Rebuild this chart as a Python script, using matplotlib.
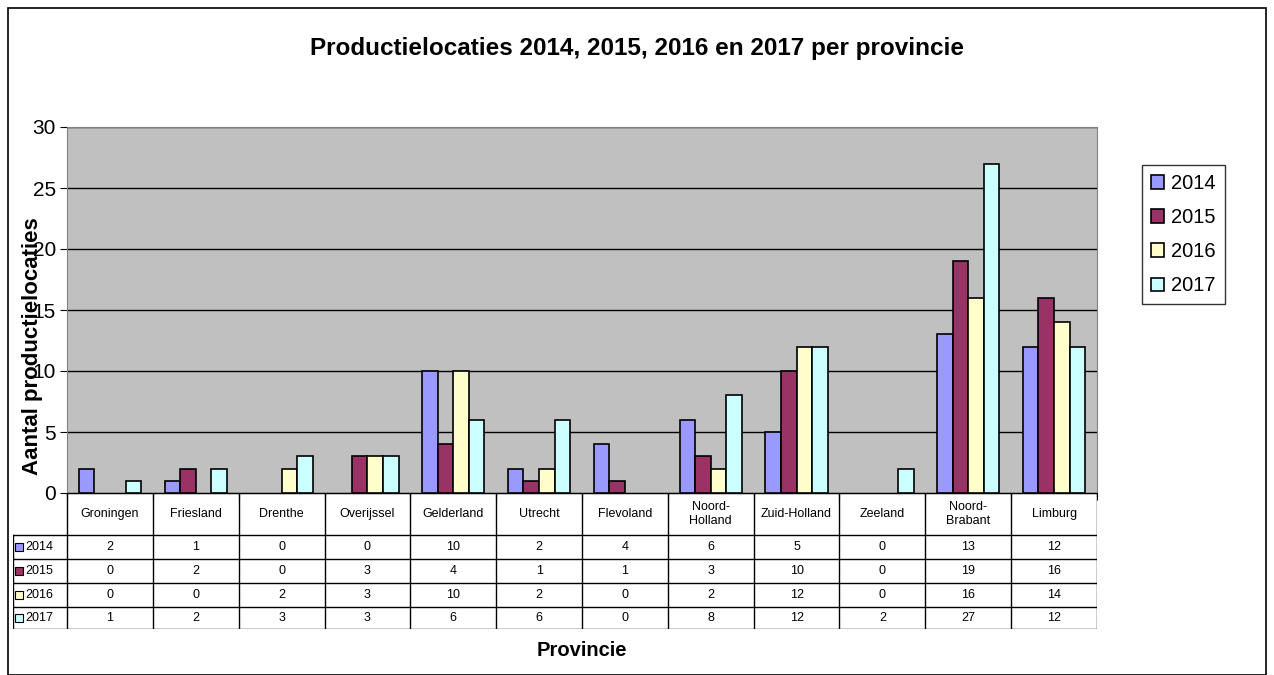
import numpy as np
import matplotlib.pyplot as plt
from matplotlib.patches import Rectangle, Patch

plt.rcParams['font.family'] = ['Liberation Sans', 'DejaVu Sans']

# Provincies en aantallen per jaar
provincies = ['Groningen', 'Friesland', 'Drenthe', 'Overijssel', 'Gelderland', 'Utrecht',
              'Flevoland', 'Noord-\nHolland', 'Zuid-Holland', 'Zeeland', 'Noord-\nBrabant', 'Limburg']
jaren = ['2014', '2015', '2016', '2017']
v2014 = [2, 1, 0, 0, 10, 2, 4, 6, 5, 0, 13, 12]
v2015 = [0, 2, 0, 3, 4, 1, 1, 3, 10, 0, 19, 16]
v2016 = [0, 0, 2, 3, 10, 2, 0, 2, 12, 0, 16, 14]
v2017 = [1, 2, 3, 3, 6, 6, 0, 8, 12, 2, 27, 12]
kleuren = ['#9999FF', '#993366', '#FFFFCC', '#CCFFFF']

series = [v2014, v2015, v2016, v2017]
W, H = 1274, 675

fig = plt.figure(figsize=(W / 100, H / 100), dpi=100)

# rand rond de figuur
fig.patches.append(Rectangle((8 / W, 0), (1266 - 8) / W, (H - 8) / H, transform=fig.transFigure,
                             fill=False, edgecolor='black', linewidth=1.2))

# hoofdgrafiek
x0, x1, ytop, ybot = 67, 1097, 127, 493
ax = fig.add_axes([x0 / W, 1 - ybot / H, (x1 - x0) / W, (ybot - ytop) / H])
ax.set_facecolor('#C0C0C0')
x = np.arange(len(provincies))
bw = 1 / 5.5
for i, (vals, kl) in enumerate(zip(series, kleuren)):
    lw = [1.2 if v > 0 else 0 for v in vals]
    ax.bar(x + (i - 1.5) * bw, vals, bw, color=kl, edgecolor='black', linewidth=lw, zorder=3)

ax.set_xlim(-0.5, len(provincies) - 0.5)
ax.set_ylim(0, 30)
ax.set_yticks(range(0, 31, 5))
ax.yaxis.grid(True, color='black', linewidth=1, zorder=0)
ax.set_axisbelow(True)
ax.set_xticks(np.arange(-0.5, len(provincies), 1))
ax.set_xticklabels([])
ax.tick_params(axis='x', length=5, direction='out')
ax.tick_params(axis='y', labelsize=15, length=5, direction='out', pad=3)
for s in ['top', 'right', 'left']:
    ax.spines[s].set_color('#808080')
ax.set_ylabel('Aantal productielocaties', fontsize=16, fontweight='bold')
ax.yaxis.set_label_coords(-0.023, 0.40)

handles = [Patch(facecolor=kl, edgecolor='black', linewidth=1.2, label=jr) for kl, jr in zip(kleuren, jaren)]
ax.legend(handles=handles, loc='upper left', bbox_to_anchor=(1142 / W, 1 - 165 / H),
          bbox_transform=fig.transFigure, fontsize=14.5, frameon=True, fancybox=False,
          edgecolor='black', handlelength=0.65, handleheight=0.65, handletextpad=0.35,
          borderpad=0.45, labelspacing=0.75, borderaxespad=0)

fig.text(0.5, 1 - 48 / H, 'Productielocaties 2014, 2015, 2016 en 2017 per provincie',
         ha='center', va='center', fontsize=17.5, fontweight='bold')
fig.text(x0 / W + (x1 - x0) / W / 2, 1 - 650 / H, 'Provincie', ha='center', va='center',
         fontsize=14.5, fontweight='bold')

# gegevenstabel onder de grafiek
tx0, tbot = 13, 629
lab_w = (x0 - tx0) / ((x1 - x0) / len(provincies))
tab = fig.add_axes([tx0 / W, 1 - tbot / H, (x1 - tx0) / W, (tbot - ybot) / H])
tab.set_xlim(-0.5 - lab_w, len(provincies) - 0.5)
tab.set_ylim(136, 0)
tab.axis('off')
rij = [0, 42, 66, 90, 114, 136]
n = len(provincies)
lk = dict(color='black', linewidth=1)
tab.plot([-0.5, n - 0.5], [rij[0], rij[0]], **lk)
for r in rij[1:]:
    tab.plot([-0.5 - lab_w, n - 0.5], [r, r], **lk)
for c in np.arange(-0.5, n, 1):
    tab.plot([c, c], [rij[0], rij[-1]], **lk)
tab.plot([-0.5 - lab_w, -0.5 - lab_w], [rij[1], rij[-1]], **lk)
for j, p in enumerate(provincies):
    tab.text(j, (rij[0] + rij[1]) / 2, p, ha='center', va='center', fontsize=9)
for i, (vals, kl, jr) in enumerate(zip(series, kleuren, jaren)):
    ym = (rij[i + 1] + rij[i + 2]) / 2
    tab.plot(-0.5 - lab_w + 0.07, ym, marker='s', markersize=5.5, markerfacecolor=kl,
             markeredgecolor='black', markeredgewidth=0.8)
    tab.text(-0.5 - lab_w + 0.14, ym, jr, ha='left', va='center', fontsize=9)
    for j, v in enumerate(vals):
        tab.text(j, ym, str(v), ha='center', va='center', fontsize=9)

fig.savefig('out.png', dpi=100)
